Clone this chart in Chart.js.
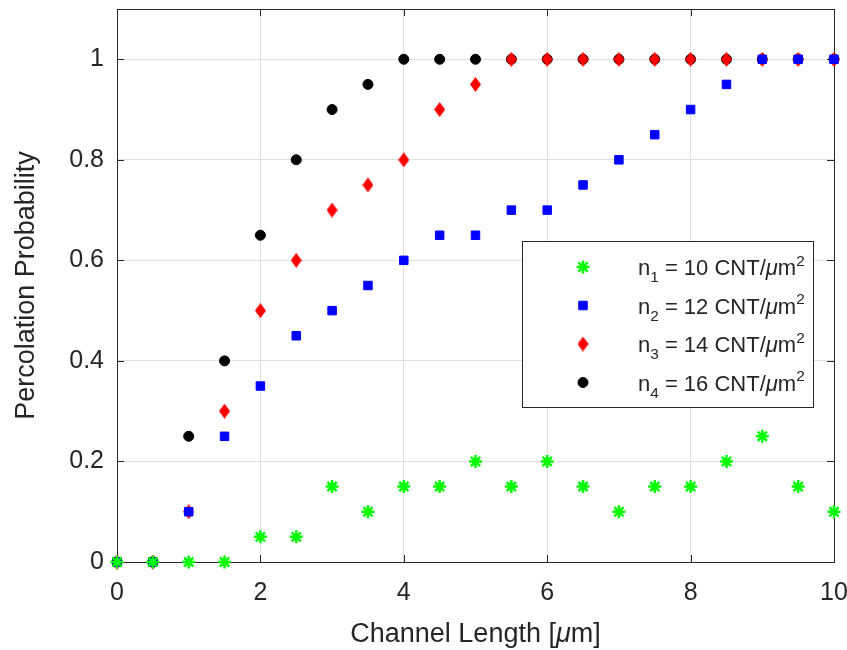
<!DOCTYPE html>
<html>
<head>
<meta charset="utf-8">
<script src="https://cdn.jsdelivr.net/npm/chart.js@4/dist/chart.umd.min.js"></script>
<style>
    html, body { margin: 0; padding: 0; background: #fff; }
    #wrap { width: 847px; height: 650px; }
</style>
</head>
<body>
<div id="wrap"><canvas id="chart"></canvas></div>
<script>
// channel length sweep, in um
const lengths = [0, 0.5, 1, 1.5, 2, 2.5, 3, 3.5, 4, 4.5, 5, 5.5, 6, 6.5, 7, 7.5, 8, 8.5, 9, 9.5, 10];

// percolation probability per CNT density
const probN1 = [0, 0, 0, 0, 0.05, 0.05, 0.15, 0.1, 0.15, 0.15, 0.2, 0.15, 0.2, 0.15, 0.1, 0.15, 0.15, 0.2, 0.25, 0.15, 0.1];
const probN2 = [0, 0, 0.1, 0.25, 0.35, 0.45, 0.5, 0.55, 0.6, 0.65, 0.65, 0.7, 0.7, 0.75, 0.8, 0.85, 0.9, 0.95, 1, 1, 1];
const probN3 = [0, 0, 0.1, 0.3, 0.5, 0.6, 0.7, 0.75, 0.8, 0.9, 0.95, 1, 1, 1, 1, 1, 1, 1, 1, 1, 1];
const probN4 = [0, 0, 0.25, 0.4, 0.65, 0.8, 0.9, 0.95, 1, 1, 1, 1, 1, 1, 1, 1, 1, 1, 1, 1, 1];

const densities = ['10', '12', '14', '16']; // CNT/um^2
const xTicks = [0, 2, 4, 6, 8, 10];
const yTicks = [0, 0.2, 0.4, 0.6, 0.8, 1];

const AXIS_COLOR = '#262626';
const FONT = '"Liberation Sans", Arial, Helvetica, sans-serif';

// MATLAB style diamond is taller than it is wide, so build it as an image
function diamondMarker(w, h, color) {
    const c = document.createElement('canvas');
    c.width = w;
    c.height = h;
    const g = c.getContext('2d');
    g.fillStyle = color;
    g.beginPath();
    g.moveTo(w / 2, 0);
    g.lineTo(w, h / 2);
    g.lineTo(w / 2, h);
    g.lineTo(0, h / 2);
    g.closePath();
    g.fill();
    return c;
}
const diamond = diamondMarker(11, 15, '#ff0000');

const toPoints = (ys) => ys.map((y, i) => ({ x: lengths[i], y: y }));

const datasets = [
    { data: toPoints(probN1), pointStyle: 'star', pointRadius: 6.5, borderWidth: 2.5, borderColor: '#00ff00', backgroundColor: '#00ff00', clip: false },
    { data: toPoints(probN2), pointStyle: 'rect', pointRadius: 6, borderWidth: 1, borderColor: '#0000ff', backgroundColor: '#0000ff', clip: false },
    { data: toPoints(probN3), pointStyle: diamond, pointRadius: 7, borderWidth: 0, borderColor: '#ff0000', backgroundColor: '#ff0000', clip: false },
    { data: toPoints(probN4), pointStyle: 'circle', pointRadius: 5, borderWidth: 1, borderColor: '#000000', backgroundColor: '#000000', clip: false },
];

// draws a run of text pieces: plain, subscript, superscript or italic
function drawRich(ctx, x, y, parts, size) {
    ctx.textBaseline = 'alphabetic';
    ctx.textAlign = 'left';
    parts.forEach((p) => {
        let s = size, dy = 0, style = '';
        if (p.sub) { s = size * 0.7; dy = size * 0.32; }
        if (p.sup) { s = size * 0.7; dy = -size * 0.42; }
        if (p.it) style = 'italic ';
        ctx.font = style + s + 'px ' + FONT;
        ctx.fillText(p.t, x, y + dy);
        x += ctx.measureText(p.t).width;
    });
    return x;
}

function richWidth(ctx, parts, size) {
    let w = 0;
    parts.forEach((p) => {
        const s = p.sub || p.sup ? size * 0.7 : size;
        ctx.font = (p.it ? 'italic ' : '') + s + 'px ' + FONT;
        w += ctx.measureText(p.t).width;
    });
    return w;
}

// box round the axes with inward ticks on all four sides
const axesBox = {
    id: 'axesBox',
    beforeDatasetsDraw(chart) {
        const { ctx, chartArea: a, scales } = chart;
        const tick = 7;
        ctx.save();
        ctx.strokeStyle = AXIS_COLOR;
        ctx.lineWidth = 1;
        ctx.beginPath();
        xTicks.forEach((v) => {
            const px = Math.round(scales.x.getPixelForValue(v)) + 0.5;
            ctx.moveTo(px, a.bottom); ctx.lineTo(px, a.bottom - tick);
            ctx.moveTo(px, a.top); ctx.lineTo(px, a.top + tick);
        });
        yTicks.forEach((v) => {
            const py = Math.round(scales.y.getPixelForValue(v)) + 0.5;
            ctx.moveTo(a.left, py); ctx.lineTo(a.left + tick, py);
            ctx.moveTo(a.right, py); ctx.lineTo(a.right - tick, py);
        });
        ctx.stroke();
        ctx.strokeRect(Math.round(a.left) + 0.5, Math.round(a.top) + 0.5,
            Math.round(a.right - a.left), Math.round(a.bottom - a.top));
        ctx.restore();
    },
    afterDraw(chart) {
        const { ctx, chartArea: a } = chart;
        ctx.save();
        ctx.fillStyle = AXIS_COLOR;

        // x axis title
        const xTitle = [{ t: 'Channel Length [' }, { t: '\u03bc', it: true }, { t: 'm]' }];
        const xs = 27;
        const xw = richWidth(ctx, xTitle, xs);
        drawRich(ctx, (a.left + a.right) / 2 - xw / 2, 642, xTitle, xs);

        // y axis title
        ctx.translate(34, (a.top + a.bottom) / 2);
        ctx.rotate(-Math.PI / 2);
        ctx.font = '27px ' + FONT;
        ctx.textAlign = 'center';
        ctx.textBaseline = 'alphabetic';
        ctx.fillText('Percolation Probability', 0, 0);
        ctx.restore();
    },
};

// legend with subscripted density names
const densityLegend = {
    id: 'densityLegend',
    afterDraw(chart) {
        const { ctx } = chart;
        const box = { x: 522.5, y: 241.5, w: 291, h: 166 };
        ctx.save();
        ctx.fillStyle = '#ffffff';
        ctx.fillRect(box.x, box.y, box.w, box.h);
        ctx.strokeStyle = AXIS_COLOR;
        ctx.lineWidth = 1;
        ctx.strokeRect(box.x, box.y, box.w, box.h);

        const rowY = [267, 305.5, 344, 382.5];
        chart.data.datasets.forEach((ds, i) => {
            const y = rowY[i];
            ctx.fillStyle = ds.backgroundColor;
            ctx.strokeStyle = ds.borderColor;
            ctx.lineWidth = ds.borderWidth;
            Chart.helpers.drawPoint(ctx, {
                pointStyle: ds.pointStyle,
                radius: ds.pointRadius,
                borderWidth: ds.borderWidth,
                rotation: 0,
            }, 583, y);
            ctx.fillStyle = AXIS_COLOR;
            drawRich(ctx, 638, y + 8, [
                { t: 'n' }, { t: String(i + 1), sub: true },
                { t: ' = ' + densities[i] + ' CNT/' }, { t: '\u03bc', it: true },
                { t: 'm' }, { t: '2', sup: true },
            ], 22);
        });
        ctx.restore();
    },
};

new Chart(document.getElementById('chart'), {
    type: 'scatter',
    data: { datasets: datasets },
    options: {
        responsive: true,
        maintainAspectRatio: false,
        animation: false,
        layout: { padding: { top: 7, right: 13, left: 0, bottom: 0 } },
        plugins: { legend: { display: false }, tooltip: { enabled: false } },
        scales: {
            x: {
                type: 'linear',
                min: 0,
                max: 10,
                afterFit: (s) => { s.height = 88; s.paddingLeft = 0; s.paddingRight = 0; },
                afterBuildTicks: (s) => { s.ticks = xTicks.map((v) => ({ value: v })); },
                border: { display: false },
                grid: { color: '#dfdfdf', drawTicks: false },
                ticks: { padding: 16, color: AXIS_COLOR, font: { family: FONT, size: 25 } },
            },
            y: {
                type: 'linear',
                min: 0,
                max: 1.1,
                afterFit: (s) => { s.width = 117; s.paddingTop = 0; s.paddingBottom = 0; },
                afterBuildTicks: (s) => { s.ticks = yTicks.map((v) => ({ value: v })); },
                border: { display: false },
                grid: { color: '#dfdfdf', drawTicks: false },
                ticks: {
                    padding: 13,
                    color: AXIS_COLOR,
                    font: { family: FONT, size: 25 },
                    callback: (v) => String(Math.round(v * 10) / 10),
                },
            },
        },
    },
    plugins: [axesBox, densityLegend],
});
</script>
</body>
</html>
